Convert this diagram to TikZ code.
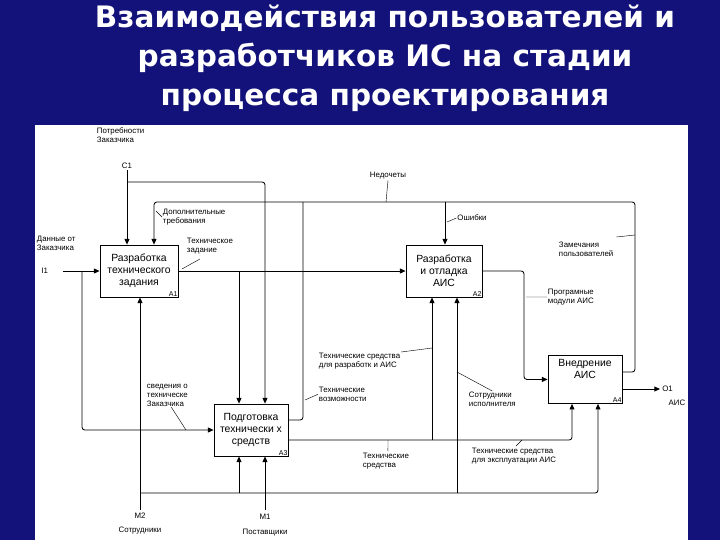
\documentclass[tikz,border=0pt]{standalone}
\usepackage{fontspec}
\setmainfont{Liberation Sans}
\newfontfamily\titlefont{DejaVu Sans}
\usetikzlibrary{arrows.meta}
\definecolor{navy}{HTML}{12127A}
\begin{document}
\begin{tikzpicture}[x=0.025cm,y=-0.025cm,
  box/.style={draw,line width=0.6pt,fill=white,inner sep=1pt,align=center,font=\fontsize{7.4}{8.6}\selectfont},
  lbl/.style={font=\fontsize{5.6}{6.4}\selectfont,inner sep=0.5pt,align=left},
  arr/.style={-{Triangle[length=4pt,width=3.5pt]},line width=0.6pt,rounded corners=2},
  ln/.style={line width=0.6pt,rounded corners=2},
  lead/.style={line width=0.3pt},
  ttl/.style={text=white,font=\titlefont\bfseries\fontsize{21}{24}\selectfont}]
\fill[navy] (0,0) rectangle (720,540);
\fill[white] (35,125) rectangle (688,540);
\useasboundingbox (0,0) rectangle (720,540);
% title
\node[ttl] (t1) at (385,18) {Взаимодействия пользователей и};
\node[ttl] (t2) at (385,58) {разработчиков ИС на стадии};
\node[ttl] (t3) at (385,100) {процесса проектирования};
% boxes
\node[box,minimum width=78*0.025cm,minimum height=52*0.025cm] (A1) at (139,271) {Разработка\\технического\\задания};
\node[box,minimum width=76*0.025cm,minimum height=52*0.025cm] (A2) at (444,271) {Разработка\\и отладка\\АИС};
\node[box,minimum width=74*0.025cm,minimum height=52*0.025cm] (A3) at (251,430) {Подготовка\\технически х\\средств};
\node[box,minimum width=74*0.025cm,minimum height=48*0.025cm,anchor=north] (A4) at (585,355) {Внедрение\\АИС\\[6pt]};
\foreach \b/\t in {A1/A1,A2/A2,A3/A3,A4/A4}
  \node[lbl,anchor=south east,font=\fontsize{5}{5}\selectfont] at (\b.south east) {\t};
% points
\coordinate (c1) at (127,170);
\coordinate (j1) at (127,182);
\coordinate (k1) at (265,182);
\coordinate (q4) at (622,372);
\coordinate (f1) at (635,202);
\coordinate (f2) at (154,202);
\coordinate (e1) at (445,202);
\coordinate (v1) at (303,202);
\coordinate (v2) at (288,420);
\coordinate (i1) at (63,271);
\coordinate (b1) at (82,271);
\coordinate (b2) at (82,430);
\coordinate (t1b) at (239,271);
\coordinate (m2) at (140,510);
\coordinate (h1) at (140,493);
\coordinate (h2) at (598,493);
\coordinate (h3) at (239,493);
\coordinate (h4) at (457,493);
\coordinate (m1) at (265,510);
\coordinate (s1) at (288,440);
\coordinate (s2) at (572,440);
\coordinate (s3) at (432,440);
\coordinate (p1) at (524,271);
\coordinate (o1) at (660,389);
% connectors
\draw[arr] (c1) -- (c1 |- A1.north);
\draw[arr] (j1) -- (k1) -- (k1 |- A3.north);
\draw[arr] (q4) -| (f1) -- (f2) -- (f2 |- A1.north);
\draw[arr] (e1) -- (e1 |- A2.north);
\draw[ln] (v1) |- (v2);
\draw[arr] (i1) -- (A1.west);
\draw[arr] (A1.east) -- (A2.west);
\draw[arr] (b1) -- (b2) -- (A3.west);
\draw[arr] (t1b) -- (t1b |- A3.north);
\draw[arr] (m2) -- (m2 |- A1.south);
\draw[arr] (h1) -- (h2) -- (h2 |- A4.south);
\draw[arr] (h3) -- (h3 |- A3.south);
\draw[arr] (h4) -- (h4 |- A2.south);
\draw[arr] (m1) -- (m1 |- A3.south);
\draw[arr] (s1) -- (s2) -- (s2 |- A4.south);
\draw[arr] (s3) -- (s3 |- A2.south);
\draw[arr] (A2.east) -- (p1) |- (A4.west);
\draw[arr] (A4.east |- o1) -- (o1);
% labels
\node[lbl,anchor=north west] (l1) at (96,127) {Потребности\\Заказчика};
\node[lbl,anchor=south] (l2) at (c1) {C1};
\node[lbl,anchor=north west] (l3) at (36,235) {Данные от\\Заказчика};
\node[lbl,anchor=east] (l4) at (i1) {I1\hspace{10pt}};
\node[lbl,anchor=north west] (l5) at (162,208) {Дополнительные\\требования};
\node[lbl,anchor=north west] (l6) at (186,237) {Техническое\\задание};
\node[lbl] (l7) at (388,176) {Недочеты};
\node[lbl] (l8) at (472,218) {Ошибки};
\node[lbl,anchor=north west] (l9) at (558,241) {Замечания\\пользователей};
\node[lbl,anchor=north west] (l10) at (547,288) {Програмные\\модули АИС};
\node[lbl,anchor=north west] (l11) at (318,352) {Технические средства\\для разработк и АИС};
\node[lbl,anchor=north west] (l12) at (318,386) {Технические\\возможности};
\node[lbl,anchor=north west] (l13) at (146,383) {сведения о\\техническе\\Заказчика};
\node[lbl,anchor=north west] (l14) at (468,391) {Сотрудники\\исполнителя};
\node[lbl,anchor=north west] (l15) at (362,452) {Технические\\средства};
\node[lbl,anchor=north west] (l16) at (471,447) {Технические средства\\для эксплуатации АИС};
\node[lbl,anchor=west] (l17) at (o1) {\,O1};
\node[lbl] (l18) at (677,403) {АИС};
\node[lbl] (l19) at (140,516) {M2};
\node[lbl] (l20) at (140,531) {Сотрудники};
\node[lbl] (l21) at (265,517) {M1};
\node[lbl] (l22) at (265,533) {Поставщики};
% leaders
\draw[lead] (l7.south) -- (386,202);
\draw[lead] (l8.west) -- (447,222);
\draw[lead] (l5.west) -- (156,211);
\draw[lead] (l6.south) ++(-10,4) -- (182,269);
\draw[lead] (l9.north east) ++(2,-4) -- (635,235);
\draw[lead] (l10.west) -- (526,297);
\draw[lead] (l11.north east) -- (432,348);
\draw[lead] (l12.west) -- (305,400);
\draw[lead] (l13.south) ++(4,0) -- (186,430);
\draw[lead] (l14.north) -- (457,372);
\draw[lead] (l15.north) ++(2,-1) -- (388,440);
\draw[lead] (l16.north) ++(2,-1) -- (522,440);
\end{tikzpicture}
\end{document}
